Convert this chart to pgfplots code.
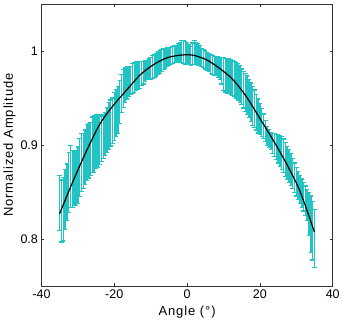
\documentclass[border=0pt]{standalone}
\usepackage{pgfplots}
\pgfplotsset{compat=1.18}
\usepackage{pgfplotstable}
\usepackage{fontspec}
\setmainfont{Liberation Sans}
\newfontfamily\labelfont{Liberation Sans}[LetterSpace=7]
\definecolor{barcyan}{RGB}{32,196,196}

% angle, mean amplitude, error
\pgfplotstableread{
x y e
-35 0.8385 0.0295
-34.5 0.8300 0.0330
-34 0.8320 0.0340
-33.5 0.8420 0.0320
-33 0.8500 0.0300
-32.5 0.8600 0.0320
-32 0.8670 0.0330
-31.5 0.8640 0.0300
-31 0.8645 0.0285
-30.5 0.8650 0.0290
-30 0.8680 0.0300
-29.5 0.8760 0.0310
-29 0.8815 0.0305
-28.5 0.8830 0.0290
-28 0.8870 0.0290
-27.5 0.8920 0.0300
-27 0.8940 0.0290
-26.5 0.8960 0.0280
-26 0.9005 0.0295
-25.5 0.9010 0.0300
-25 0.9035 0.0285
-24.5 0.9030 0.0270
-24 0.9055 0.0265
-23.5 0.9070 0.0240
-23 0.9090 0.0230
-22.5 0.9120 0.0230
-22 0.9160 0.0240
-21.5 0.9200 0.0250
-21 0.9235 0.0245
-20.5 0.9260 0.0240
-20 0.9305 0.0255
-19.5 0.9340 0.0250
-19 0.9370 0.0250
-18.5 0.9460 0.0230
-18 0.9550 0.0200
-17.5 0.9600 0.0200
-17 0.9635 0.0185
-16.5 0.9660 0.0170
-16 0.9680 0.0160
-15.5 0.9690 0.0150
-15 0.9710 0.0160
-14.5 0.9720 0.0160
-14 0.9735 0.0155
-13.5 0.9740 0.0150
-13 0.9745 0.0145
-12.5 0.9760 0.0130
-12 0.9770 0.0120
-11.5 0.9790 0.0110
-11 0.9800 0.0100
-10.5 0.9805 0.0110
-10 0.9815 0.0115
-9.5 0.9830 0.0120
-9 0.9840 0.0120
-8.5 0.9855 0.0120
-8 0.9870 0.0120
-7.5 0.9885 0.0120
-7 0.9900 0.0120
-6.5 0.9915 0.0110
-6 0.9925 0.0105
-5.5 0.9935 0.0100
-5 0.9945 0.0095
-4.5 0.9950 0.0090
-4 0.9960 0.0090
-3.5 0.9965 0.0090
-3 0.9970 0.0090
-2.5 0.9980 0.0100
-2 0.9990 0.0100
-1.5 0.9995 0.0115
-1 0.9990 0.0120
-0.5 0.9980 0.0120
0 0.9975 0.0115
0.5 0.9960 0.0105
1 0.9950 0.0100
1.5 0.9970 0.0115
2 0.9985 0.0125
2.5 0.9975 0.0120
3 0.9965 0.0115
3.5 0.9950 0.0105
4 0.9935 0.0095
4.5 0.9920 0.0095
5 0.9905 0.0095
5.5 0.9890 0.0095
6 0.9875 0.0095
6.5 0.9860 0.0100
7 0.9850 0.0100
7.5 0.9845 0.0100
8 0.9840 0.0100
8.5 0.9830 0.0110
9 0.9815 0.0115
9.5 0.9790 0.0140
10 0.9755 0.0175
10.5 0.9745 0.0180
11 0.9735 0.0185
11.5 0.9730 0.0185
12 0.9725 0.0185
12.5 0.9715 0.0185
13 0.9705 0.0185
13.5 0.9690 0.0190
14 0.9675 0.0195
14.5 0.9650 0.0195
15 0.9620 0.0190
15.5 0.9590 0.0195
16 0.9560 0.0200
16.5 0.9530 0.0205
17 0.9495 0.0205
17.5 0.9455 0.0205
18 0.9415 0.0205
18.5 0.9385 0.0200
19 0.9350 0.0190
19.5 0.9310 0.0180
20 0.9275 0.0165
20.5 0.9240 0.0150
21 0.9200 0.0130
21.5 0.9150 0.0115
22 0.9100 0.0100
22.5 0.9070 0.0095
23 0.9040 0.0090
23.5 0.9020 0.0105
24 0.9000 0.0120
24.5 0.8980 0.0135
25 0.8960 0.0150
25.5 0.8940 0.0165
26 0.8915 0.0175
26.5 0.8885 0.0180
27 0.8850 0.0180
27.5 0.8810 0.0175
28 0.8775 0.0175
28.5 0.8740 0.0170
29 0.8700 0.0160
29.5 0.8655 0.0155
30 0.8610 0.0150
30.5 0.8570 0.0150
31 0.8530 0.0150
31.5 0.8490 0.0150
32 0.8450 0.0150
32.5 0.8410 0.0155
33 0.8365 0.0165
33.5 0.8270 0.0230
34 0.8160 0.0300
34.5 0.8090 0.0310
35 0.8010 0.0310
}\measured

% fitted curve
\pgfplotstableread{
x y
-35.0 0.8272
-31.2 0.8628
-27.5 0.8949
-23.8 0.9234
-20.1 0.9430
-16.5 0.9590
-12.8 0.9750
-9.1 0.9858
-5.4 0.9930
-1.7 0.9957
1.5 0.9957
5.2 0.9910
8.8 0.9820
12.5 0.9700
16.2 0.9520
19.9 0.9290
23.6 0.9056
27.2 0.8810
30.9 0.8520
35.0 0.8075
}\fitted

\begin{document}
\begin{tikzpicture}
\begin{axis}[
  scale only axis,
  width=290bp, height=281bp,
  xmin=-40, xmax=40, ymin=0.75, ymax=1.05,
  xtick={-40,-20,0,20,40},
  ytick={0.8,0.9,1},
  tick align=inside,
  major tick length=3bp,
  axis line style={line width=0.6pt, black!80},
  tick style={line width=0.5pt, black!80},
  /pgf/number format/assume math mode=true,
  ticklabel style={font=\fontsize{12.5}{14}\selectfont},
  xlabel={Angle (°)},
  ylabel={Normalized Amplitude},
  label style={font=\labelfont\fontsize{13}{15}\selectfont},
  xlabel style={at={(axis description cs:0.5,-0.0907)}, anchor=center},
  ylabel style={at={(axis description cs:-0.11,0.5)}, anchor=center},
  every error bar/.style={draw=barcyan, color=barcyan, line width=1.5pt},
  clip=false,
]
\addplot[
  color=barcyan, draw=none, mark=none,
  error bars/.cd, y dir=both, y explicit,
  error bar style={draw=barcyan, color=barcyan, solid, line width=1.5pt},
  error mark options={rotate=90, mark size=2.2bp, line width=1.2pt, draw=barcyan, color=barcyan},
] table[x=x, y=y, y error=e] {\measured};
\addplot[black, line width=1.2pt, smooth, tension=0.5] table[x=x, y=y] {\fitted};
\end{axis}
\path ([yshift=4bp]current axis.north);
\end{tikzpicture}
\end{document}
